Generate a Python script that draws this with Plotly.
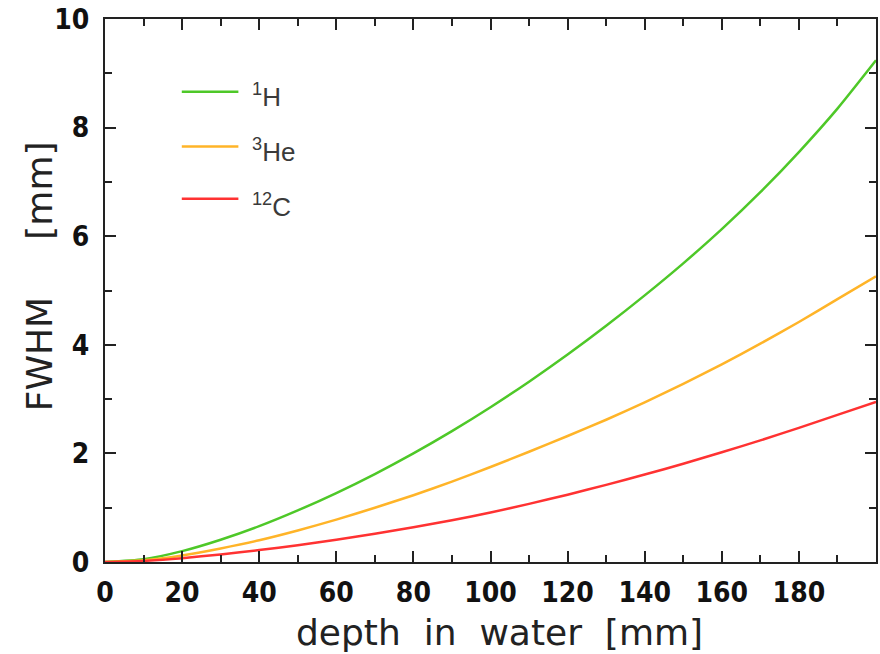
import plotly.graph_objects as go

depth = [0, 10, 20, 30, 40, 50, 60, 70, 80, 90, 100, 110, 120, 130, 140, 150, 160, 170, 180, 190, 200]
fwhm_h = [0, 0.05, 0.20, 0.41, 0.66, 0.95, 1.27, 1.62, 2.00, 2.41, 2.85, 3.32, 3.82, 4.35, 4.91, 5.50, 6.13, 6.81, 7.55, 8.35, 9.24]
fwhm_he = [0, 0.03, 0.12, 0.25, 0.40, 0.58, 0.78, 1.00, 1.23, 1.48, 1.75, 2.03, 2.32, 2.62, 2.94, 3.28, 3.64, 4.02, 4.42, 4.84, 5.26]
fwhm_c = [0, 0.02, 0.07, 0.14, 0.22, 0.31, 0.41, 0.52, 0.64, 0.77, 0.91, 1.07, 1.24, 1.42, 1.61, 1.81, 2.02, 2.24, 2.47, 2.71, 2.95]

series_names = ["<sup>1</sup>H", "<sup>3</sup>He", "<sup>12</sup>C"]
series_values = [fwhm_h, fwhm_he, fwhm_c]
series_colors = ["rgb(78,200,40)", "rgb(255,180,40)", "rgb(255,50,50)"]

x_tickvals = [0, 20, 40, 60, 80, 100, 120, 140, 160, 180]
y_tickvals = [0, 2, 4, 6, 8, 10]

fig = go.Figure()
for name, vals, col in zip(series_names, series_values, series_colors):
    fig.add_trace(go.Scatter(x=depth, y=vals, mode="lines", name=name,
                             line=dict(color=col, width=2.5, shape="spline", smoothing=0.6),
                             showlegend=False))

tick_font = dict(family="Liberation Sans Narrow, DejaVu Sans Condensed, sans-serif", size=28,
                 color="#111", weight="bold")
axis_common = dict(showline=True, linecolor="#222", linewidth=2, mirror="ticks",
                   ticks="inside", ticklen=11, tickwidth=2, tickcolor="#222",
                   showgrid=False, zeroline=False, tickfont=tick_font)

fig.update_xaxes(range=[0, 200], tickvals=x_tickvals, ticktext=[str(v) for v in x_tickvals],
                 minor=dict(dtick=10, ticklen=7, tickwidth=2, tickcolor="#222", ticks="inside"),
                 ticklabelstandoff=4, **axis_common)
fig.update_yaxes(range=[0, 10], tickvals=y_tickvals, ticktext=[str(v) for v in y_tickvals],
                 minor=dict(dtick=1, ticklen=7, tickwidth=2, tickcolor="#222", ticks="inside"),
                 ticklabelstandoff=8, **axis_common)

# legend drawn as lines + labels
leg_y_line = [0.866, 0.765, 0.669]
leg_y_text = [0.860, 0.757, 0.657]
for name, col, yl, yt in zip(series_names, series_colors, leg_y_line, leg_y_text):
    fig.add_shape(type="line", xref="paper", yref="paper", x0=0.0996, x1=0.173, y0=yl, y1=yl,
                  line=dict(color=col, width=2.5))
    fig.add_annotation(xref="paper", yref="paper", x=0.1876, y=yt, text=name, showarrow=False,
                       xanchor="left", yanchor="middle",
                       font=dict(family="Liberation Sans, Arial, sans-serif", size=26, color="#3a3a3a"))

title_font = dict(family="DejaVu Sans, sans-serif", size=36, color="#222")
fig.add_annotation(xref="paper", yref="paper", x=(501 - 105) / 773, y=-0.088,
                   text="depth\u00a0\u00a0in\u00a0\u00a0water\u00a0\u00a0[mm]", showarrow=False,
                   xanchor="center", yanchor="top", font=title_font)
fig.add_annotation(xref="paper", yref="paper", x=-0.056, y=(562 - 276) / 543,
                   text="FWHM\u00a0\u00a0\u00a0\u00a0\u00a0[mm]", showarrow=False, textangle=-90,
                   xanchor="right", yanchor="middle", font=title_font)

fig.update_layout(width=880, height=654, margin=dict(l=105, r=2, t=19, b=92),
                  plot_bgcolor="white", paper_bgcolor="white")

fig.write_html("out.html", config={"displayModeBar": False},
               post_script="document.body.style.margin='0';document.body.style.overflow='hidden';")
